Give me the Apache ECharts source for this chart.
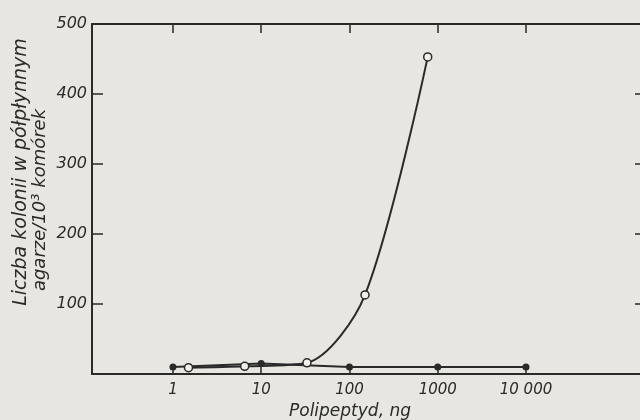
<!DOCTYPE html>
<html style="height:100%;width:100%;">

<head>
  <meta charset="utf-8">
  <title>Liczba kolonii</title>
  <script src="https://cdn.jsdelivr.net/npm/echarts@6/dist/echarts.min.js"></script>
</head>

<body style="margin:0px;height:100%;width:100%;background:#e7e6e0;">
  <div id="main" style="width:640px;height:420px"></div>
  <script type="text/javascript" charset="utf-8">
    // dane
    var xTicks = [1, 10, 100, 1000, 10000];
    var xTickLabels = ['1', '10', '100', '1000', '10 000'];
    var yTicks = [100, 200, 300, 400];
    var yLabels = [100, 200, 300, 400, 500];
    // punkty pełne (kontrola)
    var doseFilled = [1, 10, 100, 1000, 10000];
    var countFilled = [10, 15, 10, 10, 10];
    // punkty puste
    var doseOpen = [1.5, 6.5, 33, 150, 770];
    var countOpen = [9, 11, 16, 113, 453];

    var ink = '#2a2a2a';
    var font = 'DejaVu Sans';

    function pairs(xs, ys) {
      return xs.map(function (x, i) { return [x, ys[i]]; });
    }

    var myChart = echarts.init(document.getElementById('main'));

    var xBase = {
      type: 'log',
      logBase: 10,
      min: 0.121,
      max: 229000,
      axisLine: { show: true, onZero: false, lineStyle: { color: ink, width: 2 } },
      splitLine: { show: false },
      minorTick: { show: false },
      axisTick: { show: true, inside: true, length: 9, customValues: xTicks, lineStyle: { color: ink, width: 1.5 } }
    };
    var yBase = {
      type: 'value',
      min: 0,
      max: 500,
      interval: 100,
      axisLine: { show: true, onZero: false, lineStyle: { color: ink, width: 2 } },
      splitLine: { show: false },
      axisTick: { show: true, inside: true, length: 11, customValues: yTicks, lineStyle: { color: ink, width: 1.5 } }
    };

    option = {
      animation: false,
      backgroundColor: '#e7e6e0',
      grid: { left: 92, top: 24, bottom: 46, right: -6, outerBoundsMode: 'none', containLabel: false },
      xAxis: [
        Object.assign({}, xBase, {
          position: 'bottom',
          name: 'Polipeptyd, ng',
          nameLocation: 'middle',
          nameGap: 27,
          nameTextStyle: { fontFamily: font, fontStyle: 'italic', fontSize: 17, color: ink, padding: [0, 38, 0, 0] },
          axisLabel: {
            show: true,
            customValues: xTicks,
            margin: 9,
            fontFamily: font,
            fontStyle: 'italic',
            fontSize: 15,
            color: ink,
            formatter: function (v) {
              var i = xTicks.indexOf(Math.round(v));
              return i >= 0 ? xTickLabels[i] : '';
            }
          }
        }),
        Object.assign({}, xBase, { position: 'top', axisLabel: { show: false } })
      ],
      yAxis: [
        Object.assign({}, yBase, {
          position: 'left',
          axisLabel: { show: true, customValues: yLabels, margin: 5, fontFamily: font, fontStyle: 'italic', fontSize: 16, color: ink }
        }),
        Object.assign({}, yBase, { position: 'right', axisLabel: { show: false } })
      ],
      graphic: [{
        type: 'text',
        x: 21,
        y: 172,
        rotation: Math.PI / 2,
        style: {
          text: 'Liczba kolonii w półpłynnym',
          font: 'italic 19px "DejaVu Sans"',
          fill: ink,
          align: 'center',
          verticalAlign: 'middle',
          textAlign: 'center',
          textVerticalAlign: 'middle'
        }
      }, {
        type: 'text',
        x: 40,
        y: 200,
        rotation: Math.PI / 2,
        style: {
          text: 'agarze/10³ komórek',
          font: 'italic 18px "DejaVu Sans"',
          fill: ink,
          align: 'center',
          verticalAlign: 'middle',
          textAlign: 'center',
          textVerticalAlign: 'middle'
        }
      }],
      series: [{
        name: 'pełne',
        type: 'line',
        data: pairs(doseFilled, countFilled),
        symbol: 'circle',
        symbolSize: 7,
        itemStyle: { color: ink },
        lineStyle: { color: ink, width: 2 },
        emphasis: { disabled: true }
      }, {
        name: 'puste',
        type: 'line',
        data: pairs(doseOpen, countOpen),
        smooth: 0.3,
        symbol: 'circle',
        symbolSize: 8,
        itemStyle: { color: '#f1f0eb', borderColor: ink, borderWidth: 1.5 },
        lineStyle: { color: ink, width: 2 },
        emphasis: { disabled: true }
      }]
    };

    if (option && typeof option === "object") {
      myChart.setOption(option, true);
    }
  </script>
</body>

</html>
